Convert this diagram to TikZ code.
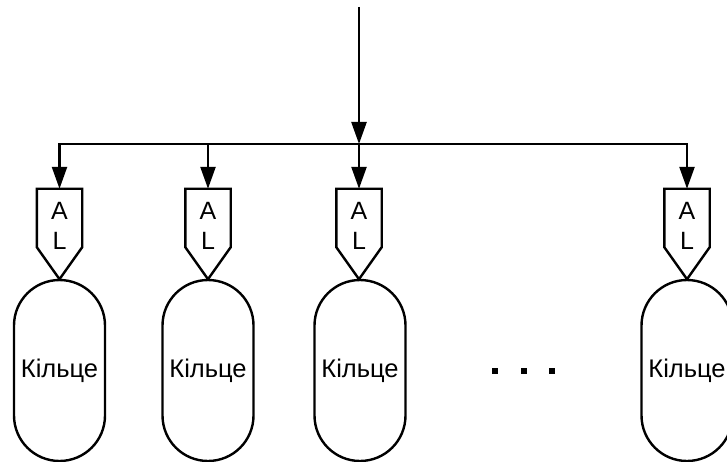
\documentclass[tikz,border=0pt]{standalone}
\usepackage{fontspec}
\setmainfont{Liberation Sans}
\usetikzlibrary{arrows.meta,calc}

\tikzset{
  wire/.style={line width=2.4pt, -{Triangle[length=22pt,width=15pt]}},
  albox/.style={minimum width=45pt, minimum height=58pt, inner sep=0pt},
  altext/.style={inner sep=0pt, font=\fontsize{25}{30}\selectfont, align=center},
  ring/.style={draw, line width=2.4pt, minimum width=91pt, minimum height=181pt,
    rounded corners=45.5pt, inner sep=0pt, font=\fontsize{25.5}{28}\selectfont},
  outline/.style={line width=2.4pt, line join=miter},
  dotmark/.style={fill=black, minimum size=6pt, inner sep=0pt}
}

\begin{document}
\begin{tikzpicture}[x=1pt, y=-1pt]
  \useasboundingbox (0,0) rectangle (727,462);

  % incoming line and the bus junction
  \coordinate (top) at (359,7);
  \coordinate (bus) at (359,144);

  % address-logic boxes (A/L) above each ring
  \foreach \i/\x in {1/59.5, 2/208, 3/359, 4/687} {
    \node[albox] (al\i) at (\x,218) {};
    \node[altext] (alt\i) at (\x,226) {A\\L};
    \coordinate (tip\i) at ($(al\i.south)+(0,32)$);
    \draw[outline] (al\i.south west) -- (al\i.north west) -- (al\i.north east)
      -- (al\i.south east) -- (tip\i) -- cycle;
  }

  % rings
  \node[ring] (r1) at (59.5,370.5) {Кільце};
  \node[ring] (r2) at (208,370.5) {Кільце};
  \node[ring] (r3) at (360,370.5) {Кільце};
  \node[ring] (r4) at (687,370.5) {Кільце};

  % ellipsis between the third and last ring
  \node[dotmark] (d1) at (495,370.5) {};
  \node[dotmark] (d2) at (523.5,370.5) {};
  \node[dotmark] (d3) at (552,370.5) {};

  % distribution bus
  \draw[wire] (top) -- (bus);
  \draw[wire] (bus) -| (al1.north);
  \draw[wire] (bus) -| (al2.north);
  \draw[wire] (bus) -- (al3.north);
  \draw[wire] (bus) -| (al4.north);
\end{tikzpicture}
\end{document}
